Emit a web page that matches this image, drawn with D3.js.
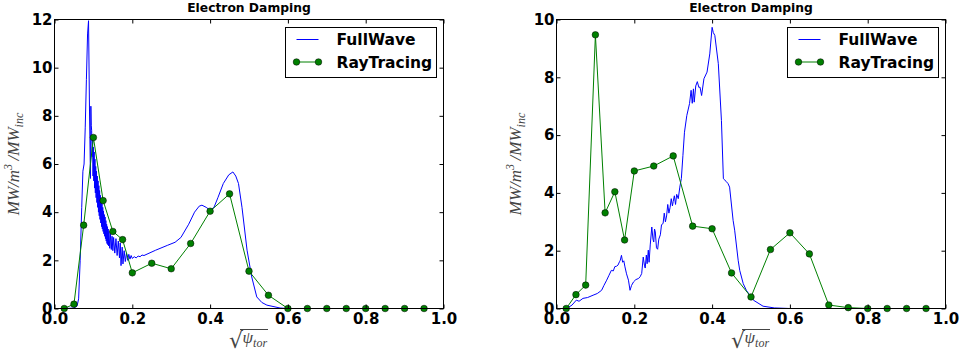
<!DOCTYPE html>
<html>
<head>
<meta charset="utf-8">
<script src="https://cdn.jsdelivr.net/npm/d3@7"></script>
<style>
body { margin: 0; background: #fff; }
</style>
</head>
<body>
<svg width="963" height="360"></svg>
<script>
// ---- data ----
var rayX = [0.025, 0.05, 0.075, 0.1, 0.125, 0.15, 0.175, 0.2, 0.25, 0.3, 0.35, 0.4, 0.45,
            0.5, 0.55, 0.6, 0.65, 0.7, 0.75, 0.8, 0.85, 0.9, 0.95];
var rayLeft = [0, 0.18, 3.46, 7.1, 4.48, 3.2, 2.86, 1.48, 1.88, 1.65, 2.7, 4.04, 4.76,
               1.55, 0.55, 0, 0, 0, 0, 0, 0, 0, 0];
var rayRight = [0, 0.48, 0.81, 9.47, 3.31, 4.04, 2.37, 4.76, 4.93, 5.28, 2.85, 2.76, 1.23,
                0.40, 2.04, 2.62, 1.89, 0.12, 0.03, 0, 0, 0, 0];

// FullWave, left panel: [sqrt(psi_tor), value]
var fullLeft = [
  [0, 0], [0.03, 0], [0.05, 0.02], [0.058, 0.1], [0.062, 0.4], [0.066, 2.0], [0.07, 4.2],
  [0.073, 5.7], [0.076, 6.0], [0.079, 7.5], [0.082, 9.5], [0.085, 11.4], [0.0875, 11.95],
  [0.09, 8.2], [0.0925, 5.4], [0.0935, 8.4], [0.0945, 7.6], [0.0955, 7.4], [0.097, 6.3],
  [0.098, 7.0], [0.099, 5.5], [0.100, 6.7], [0.101, 5.3], [0.102, 6.5], [0.103, 5.0],
  [0.104, 6.2], [0.105, 4.8], [0.106, 5.9], [0.107, 4.6], [0.108, 5.7], [0.109, 4.4],
  [0.110, 5.5], [0.111, 4.2], [0.112, 5.3], [0.113, 4.0], [0.114, 5.1], [0.115, 3.85],
  [0.116, 4.9], [0.117, 3.7], [0.118, 4.7], [0.119, 3.55], [0.120, 4.5], [0.121, 3.4],
  [0.122, 4.35], [0.123, 3.3], [0.124, 4.2], [0.125, 3.2], [0.126, 4.05], [0.127, 3.1],
  [0.128, 3.9], [0.129, 3.0], [0.130, 3.8], [0.131, 2.9], [0.132, 3.65], [0.133, 2.8],
  [0.134, 3.5], [0.135, 2.7], [0.136, 3.4], [0.137, 2.65], [0.138, 3.3], [0.139, 2.6],
  [0.140, 3.2], [0.142, 2.5], [0.144, 3.1], [0.146, 2.45], [0.148, 3.0], [0.150, 2.4],
  [0.152, 2.95], [0.155, 2.3], [0.158, 2.9], [0.161, 2.2], [0.164, 2.8], [0.167, 2.1],
  [0.169, 2.72], [0.171, 1.78], [0.174, 2.55], [0.176, 1.85], [0.179, 2.4], [0.182, 1.95],
  [0.185, 2.3], [0.188, 2.0], [0.191, 2.25], [0.194, 2.05], [0.197, 2.2], [0.2, 2.08],
  [0.205, 2.15], [0.21, 2.1], [0.215, 2.18], [0.22, 2.15], [0.225, 2.22], [0.23, 2.2],
  [0.26, 2.42], [0.29, 2.62], [0.31, 2.75], [0.325, 2.95], [0.345, 3.5], [0.36, 4.0],
  [0.372, 4.25], [0.379, 4.29], [0.39, 4.2], [0.4, 4.08], [0.41, 4.2], [0.42, 4.6],
  [0.434, 5.19], [0.448, 5.55], [0.4586, 5.67], [0.466, 5.5], [0.473, 5.19], [0.482, 4.2],
  [0.495, 2.42], [0.507, 1.31], [0.52, 0.48], [0.533, 0.25], [0.546, 0.14], [0.58, 0.02],
  [0.6, 0], [1.0, 0]
];

// FullWave, right panel
var fullRight = [
  [0.026, 0], [0.04, 0.12], [0.051, 0.29], [0.058, 0.25], [0.068, 0.35], [0.08, 0.38],
  [0.094, 0.46], [0.105, 0.52], [0.116, 0.63], [0.122, 0.8], [0.129, 0.98], [0.135, 1.15],
  [0.141, 1.32], [0.146, 1.3], [0.15, 1.45], [0.154, 1.46], [0.158, 1.5], [0.162, 1.62],
  [0.164, 1.67], [0.167, 1.84], [0.17, 1.6], [0.173, 1.65], [0.176, 1.44], [0.18, 1.2],
  [0.185, 0.98], [0.189, 0.63], [0.193, 0.8], [0.198, 0.92], [0.204, 1.0], [0.211, 1.04],
  [0.215, 1.1], [0.219, 1.21], [0.223, 1.78], [0.226, 1.5], [0.228, 1.4], [0.231, 1.85],
  [0.233, 1.55], [0.236, 2.02], [0.238, 1.6], [0.241, 2.2], [0.245, 2.82], [0.248, 2.4],
  [0.25, 2.3], [0.252, 2.75], [0.254, 2.65], [0.257, 2.1], [0.26, 2.05], [0.263, 2.4],
  [0.267, 2.55], [0.27, 2.9], [0.274, 2.94], [0.277, 3.3], [0.28, 3.0], [0.283, 3.2],
  [0.286, 3.6], [0.289, 3.3], [0.292, 3.5], [0.295, 3.8], [0.298, 3.55], [0.3, 3.7],
  [0.303, 3.9], [0.306, 3.6], [0.309, 3.95], [0.313, 3.8], [0.317, 4.2], [0.321, 4.5],
  [0.325, 5.3], [0.329, 6.1], [0.335, 6.68], [0.342, 7.09], [0.346, 7.55], [0.349, 7.1],
  [0.352, 7.6], [0.354, 7.14], [0.358, 7.7], [0.362, 7.85], [0.366, 7.65], [0.369, 7.66],
  [0.373, 7.37], [0.379, 7.95], [0.387, 8.18], [0.394, 8.81], [0.4, 9.73], [0.403, 9.55],
  [0.407, 9.45], [0.416, 8.47], [0.424, 6.51], [0.429, 4.49], [0.436, 4.4], [0.441, 4.32],
  [0.445, 4.2], [0.454, 3.05], [0.458, 2.71], [0.467, 1.67], [0.471, 1.32], [0.48, 0.86],
  [0.488, 0.63], [0.506, 0.29], [0.531, 0.08], [0.56, 0.02], [0.6, 0], [1.0, 0]
];

var xTicks = [0, 0.2, 0.4, 0.6, 0.8, 1.0];
var legendNames = ["FullWave", "RayTracing"];
var titleText = "Electron Damping";

// ---- drawing ----
var svg = d3.select("svg");
var BLUE = "#0000ff", GREEN = "#008000";

function drawPanel(opt) {
  var x = d3.scaleLinear().domain([0, 1]).range([opt.left, opt.right]);
  var y = d3.scaleLinear().domain([0, opt.ymax]).range([opt.bottom, opt.top]);
  var g = svg.append("g");
  var id = "clip" + opt.name;

  g.append("clipPath").attr("id", id).append("rect")
    .attr("x", opt.left).attr("y", opt.top - 1)
    .attr("width", opt.right - opt.left).attr("height", opt.bottom - opt.top + 2);

  var line = d3.line().x(function (d) { return x(d[0]); }).y(function (d) { return y(d[1]); });

  // full wave
  g.append("path")
    .datum(opt.full)
    .attr("clip-path", "url(#" + id + ")")
    .attr("d", line)
    .attr("fill", "none")
    .attr("stroke", BLUE)
    .attr("stroke-width", 1)
    .attr("stroke-linejoin", "round");

  // ray tracing
  var pts = rayX.map(function (v, i) { return [v, opt.ray[i]]; });
  g.append("path")
    .datum(pts)
    .attr("d", line)
    .attr("fill", "none")
    .attr("stroke", GREEN)
    .attr("stroke-width", 1);
  g.append("g").selectAll("circle").data(pts).enter()
    .append("circle")
    .attr("cx", function (d) { return x(d[0]); })
    .attr("cy", function (d) { return y(d[1]); })
    .attr("r", 3.3)
    .attr("fill", GREEN)
    .attr("stroke", "#000")
    .attr("stroke-width", 0.5);

  // axes, ticks pointing inward on all four sides
  var yTicks = d3.range(0, opt.ymax + 1, 2);
  var ax = [
    g.append("g").attr("transform", "translate(0," + opt.bottom + ")")
      .call(d3.axisBottom(x).tickValues(xTicks).tickFormat(d3.format(".1f")).tickSize(-4).tickPadding(5)),
    g.append("g").attr("transform", "translate(0," + opt.top + ")")
      .call(d3.axisTop(x).tickValues(xTicks).tickFormat("").tickSize(-4)),
    g.append("g").attr("transform", "translate(" + opt.left + ",0)")
      .call(d3.axisLeft(y).tickValues(yTicks).tickFormat(d3.format("d")).tickSize(-4).tickPadding(2)),
    g.append("g").attr("transform", "translate(" + opt.right + ",0)")
      .call(d3.axisRight(y).tickValues(yTicks).tickFormat("").tickSize(-4))
  ];
  ax.forEach(function (a) {
    a.select(".domain").remove();
    a.selectAll("line").attr("stroke", "#000");
    a.selectAll("text")
      .attr("fill", "#000")
      .style("font-family", "'DejaVu Sans', sans-serif")
      .style("font-weight", "bold")
      .style("font-size", "15px");
  });

  g.append("rect")
    .attr("x", opt.left).attr("y", opt.top)
    .attr("width", opt.right - opt.left).attr("height", opt.bottom - opt.top)
    .attr("fill", "none").attr("stroke", "#000").attr("stroke-width", 1);

  var cx = (opt.left + opt.right) / 2;

  // title
  g.append("text")
    .attr("x", cx).attr("y", 12)
    .attr("text-anchor", "middle")
    .style("font-family", "'DejaVu Sans', sans-serif")
    .style("font-weight", "bold")
    .style("font-size", "12.3px")
    .text(titleText);

  // y label  MW/m^3 /MW_inc
  var yl = g.append("text")
    .attr("transform", "translate(" + (opt.left - 36) + "," + ((opt.top + opt.bottom) / 2) + ") rotate(-90)")
    .attr("text-anchor", "middle")
    .attr("fill", "#444")
    .style("font-family", "'Liberation Serif', serif")
    .style("font-style", "italic")
    .style("font-size", "17px");
  yl.append("tspan").text("MW/m");
  yl.append("tspan").attr("dy", -7).style("font-size", "12px").text("3");
  yl.append("tspan").attr("dy", 7).text("\u2009/MW");
  yl.append("tspan").attr("dy", 4).style("font-size", "12px").text("inc");

  // x label  sqrt(psi_tor)
  var xl = g.append("g").attr("fill", "#444");
  xl.append("text")
    .attr("x", cx - 20).attr("y", 348)
    .style("font-family", "'DejaVu Serif', serif")
    .style("font-size", "22px")
    .text("\u221A");
  xl.append("line")
    .attr("x1", cx - 9).attr("x2", cx + 19)
    .attr("y1", 329.5).attr("y2", 329.5)
    .attr("stroke", "#444").attr("stroke-width", 1);
  var xt = xl.append("text")
    .attr("x", cx - 6.5).attr("y", 343)
    .style("font-family", "'Liberation Serif', serif")
    .style("font-style", "italic")
    .style("font-size", "17px");
  xt.append("tspan").text("\u03C8");
  xt.append("tspan").attr("dy", 4).style("font-size", "12px").text("tor");

  // legend
  var lx = opt.right - 158, ly = 27.5;
  var lg = g.append("g");
  lg.append("rect")
    .attr("x", lx).attr("y", ly).attr("width", 151).attr("height", 50)
    .attr("fill", "#fff").attr("stroke", "#000").attr("stroke-width", 1);
  var rows = [ly + 12, ly + 34.5];
  legendNames.forEach(function (name, i) {
    var ry = rows[i];
    lg.append("line")
      .attr("x1", lx + 11).attr("x2", lx + 33)
      .attr("y1", ry).attr("y2", ry)
      .attr("stroke", i === 0 ? BLUE : GREEN).attr("stroke-width", 1);
    if (i === 1) {
      [lx + 11, lx + 33].forEach(function (mx) {
        lg.append("circle").attr("cx", mx).attr("cy", ry).attr("r", 3.3)
          .attr("fill", GREEN).attr("stroke", "#000").attr("stroke-width", 0.5);
      });
    }
    lg.append("text")
      .attr("x", lx + 51).attr("y", ry)
      .attr("dy", "0.36em")
      .style("font-family", "'DejaVu Sans', sans-serif")
      .style("font-weight", "bold")
      .style("font-size", "15.5px")
      .text(name);
  });
}

drawPanel({name: "L", left: 54.5, right: 443.5, top: 19.5, bottom: 308.5, ymax: 12,
           full: fullLeft, ray: rayLeft});
drawPanel({name: "R", left: 556.5, right: 945.5, top: 19.5, bottom: 308.5, ymax: 10,
           full: fullRight, ray: rayRight});
</script>
</body>
</html>
